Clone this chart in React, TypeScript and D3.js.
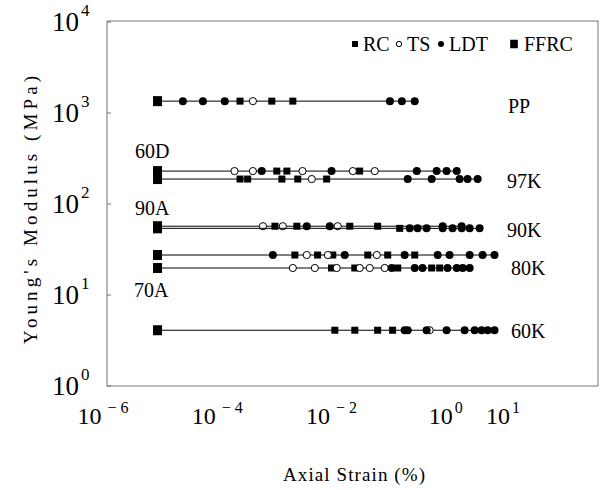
import React from "react";
import * as d3 from "d3";

// ---- data ----
const rowNames = ["PP", "60D", "97K", "90A", "90K", "80K", "70A", "60K"];
const rowModulus = [1350, 230, 188, 57, 54, 27.5, 19.8, 4.1];
const ffrcStrain = [[9e-6], [9e-6], [9e-6], [9e-6], [9e-6], [9e-6], [9e-6], [9e-6]];
const rcStrain = [
  [2.5e-4, 9e-4, 2.1e-3],
  [1.1e-3, 1.65e-3, 3.1e-2],
  [2.5e-4, 3.4e-4, 1.35e-3, 2.56e-3, 8.2e-3],
  [1.02e-3, 2.47e-3, 2.08e-2, 6.4e-2],
  [0.156],
  [2.28e-3, 5.7e-3, 1.05e-2, 4.3e-2, 9.6e-2, 0.285],
  [1.0e-2, 2.55e-2, 0.144, 0.565, 0.78],
  [1.14e-2, 2.55e-2, 6.4e-2, 0.117],
];
const tsStrain = [
  [4.2e-4],
  [2.0e-4, 4.2e-4, 3.1e-3, 2.35e-2, 5.7e-2],
  [4.5e-3],
  [6.3e-4, 1.4e-3, 1.28e-2],
  [],
  [3.68e-3, 8.6e-3, 6.2e-2],
  [2.1e-3, 5.1e-3, 1.23e-2, 3.11e-2, 4.66e-2, 8.5e-2],
  [0.52],
];
const ldtStrain = [
  [2.5e-5, 5.6e-5, 1.35e-4, 0.105, 0.17, 0.285],
  [6e-4, 1.0e-2, 0.31, 0.69, 1.03, 1.55],
  [0.215, 0.565, 1.74, 2.4, 3.6],
  [3.68e-3, 9.3e-3, 0.88, 1.89],
  [0.233, 0.32, 0.46, 0.88, 1.31, 1.89, 2.61, 3.9],
  [9.4e-4, 1.7e-2, 0.19, 0.72, 1.16, 2.61, 4.4, 7.1],
  [0.113, 0.285, 0.39, 1.07, 1.55, 1.97, 2.61],
  [0.19, 0.215, 0.46, 1.03, 2.13, 3.19, 4.23, 5.4, 7.1],
];
const xTickExps = [-6, -4, -2, 0, 1];
const yTickExps = [0, 1, 2, 3, 4];
const legendItems = ["RC", "TS", "LDT", "FFRC"];

// ---- layout ----
const W = 614;
const H = 490;
const frame = { left: 107, right: 598, top: 21, bottom: 386 };
const x = d3.scaleLog().domain([1e-6, 10]).range([103, 503]);
const y = d3.scaleLog().domain([1, 1e4]).range([386, 22]);
const labelPos: Record<string, [number, number]> = {
  PP: [508, 113],
  "60D": [135, 158],
  "97K": [507, 188],
  "90A": [135, 215],
  "90K": [507, 237],
  "80K": [511, 275],
  "70A": [134, 297],
  "60K": [511, 338],
};
// [marker x, text x]
const legendPos: Record<string, [number, number]> = {
  RC: [355, 363],
  TS: [399, 407],
  LDT: [441, 449],
  FFRC: [514, 524],
};
const serif = "'Liberation Serif', 'DejaVu Serif', serif";
const supMap: Record<string, string> = { "-6": "\u2212 6", "-4": "\u2212 4", "-2": "\u2212 2", "0": "0", "1": "1" };

function Marker({ kind, cx, cy, s = 1 }: { kind: string; cx: number; cy: number; s?: number }) {
  if (kind === "RC") return <rect x={cx - 3.5 * s} y={cy - 3.5 * s} width={7 * s} height={7 * s} fill="#000" />;
  if (kind === "TS") return <circle cx={cx} cy={cy} r={3.6 * s} fill="#fff" stroke="#000" strokeWidth={1} />;
  if (kind === "LDT") return <circle cx={cx} cy={cy} r={4 * s} fill="#000" />;
  return <rect x={cx - 4.5 * s} y={cy - 5 * s} width={9 * s} height={10 * s} fill="#000" />;
}

export default function App() {
  const rows = rowNames.map((name, i) => {
    const pts: { kind: string; s: number }[] = [];
    ffrcStrain[i].forEach((s) => pts.push({ kind: "FFRC", s }));
    rcStrain[i].forEach((s) => pts.push({ kind: "RC", s }));
    tsStrain[i].forEach((s) => pts.push({ kind: "TS", s }));
    ldtStrain[i].forEach((s) => pts.push({ kind: "LDT", s }));
    const ext = d3.extent(pts, (p) => p.s) as [number, number];
    return { name, E: rowModulus[i], pts, ext };
  });

  return (
    <svg width={W} height={H} style={{ display: "block", position: "absolute", left: 0, top: 0 }}>
      <rect width={W} height={H} fill="#fff" />
      <rect
        x={frame.left}
        y={frame.top}
        width={frame.right - frame.left}
        height={frame.bottom - frame.top}
        fill="none"
        stroke="#777"
        strokeWidth={1}
      />
      {yTickExps.map((e) => (
        <g key={"y" + e} fontFamily={serif}>
          <line x1={frame.left} x2={frame.left + 4} y1={y(10 ** e)} y2={y(10 ** e)} stroke="#777" />
          <text x={79} y={y(10 ** e) + 9} fontSize={27} textAnchor="end" fill="#000">
            10
          </text>
          <text x={81} y={y(10 ** e) - 6} fontSize={17} fill="#000">
            {e}
          </text>
        </g>
      ))}
      {xTickExps.map((e) => (
        <text key={"x" + e} x={x(10 ** e)} y={424} fontSize={24} textAnchor="middle" fill="#000" fontFamily={serif}>
          10
          <tspan fontSize={16} dy={-11} dx={e < 0 ? 6 : 2}>
            {supMap[String(e)]}
          </tspan>
        </text>
      ))}
      {rows.map((r) => (
        <g key={r.name}>
          <line x1={x(r.ext[0])} x2={x(r.ext[1])} y1={y(r.E)} y2={y(r.E)} stroke="#000" strokeWidth={1} />
          {r.pts.map((p, j) => (
            <Marker key={j} kind={p.kind} cx={x(p.s)} cy={y(r.E)} />
          ))}
        </g>
      ))}
      {rowNames.map((n) => (
        <text key={"l" + n} x={labelPos[n][0]} y={labelPos[n][1]} fontSize={20} fill="#000" fontFamily={serif}>
          {n}
        </text>
      ))}
      <g fontFamily={serif}>
        {legendItems.map((k) => (
          <g key={k}>
            <Marker kind={k} cx={legendPos[k][0]} cy={44} s={k === "RC" || k === "FFRC" ? 0.85 : 0.75} />
            <text x={legendPos[k][1]} y={51} fontSize={20}>
              {k}
            </text>
          </g>
        ))}
      </g>
      <text
        transform="translate(37,210) rotate(-90)"
        textAnchor="middle"
        fontSize={19}
        textLength={268}
        lengthAdjust="spacing"
        fontFamily={serif}
      >
        Young's Modulus (MPa)
      </text>
      <text x={354} y={481} textAnchor="middle" fontSize={19} textLength={142} lengthAdjust="spacing" fontFamily={serif}>
        Axial Strain (%)
      </text>
    </svg>
  );
}
